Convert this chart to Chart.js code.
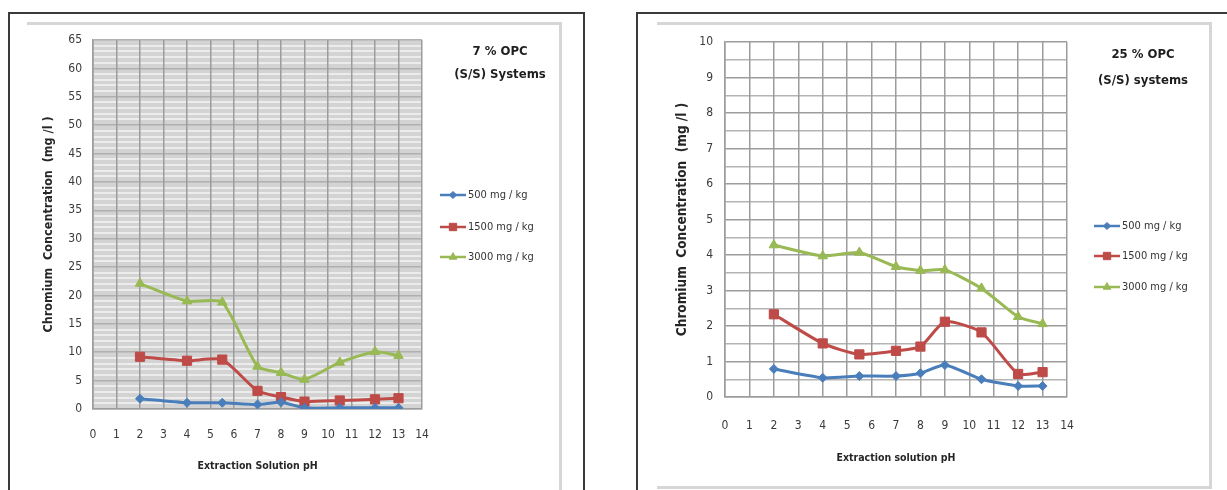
<!DOCTYPE html>
<html>
<head>
<meta charset="utf-8">
<script src="https://cdn.jsdelivr.net/npm/chart.js@4.4.1/dist/chart.umd.min.js"></script>
<style>
  html, body { margin: 0; padding: 0; background: #fff; overflow: hidden; }
  #page { position: relative; width: 1227px; height: 490px; }
  .box { position: absolute; box-sizing: border-box; }
  canvas { position: absolute; top: 0; }
</style>
</head>
<body>
<div id="page">
  <!-- left figure frames -->
  <div class="box" style="left:8px;top:12px;width:577px;height:520px;border:2px solid #3a3a3a;"></div>
  <div class="box" style="left:27px;top:22px;width:535px;height:520px;border-top:3px solid #d6d6d6;border-right:3px solid #d6d6d6;"></div>
  <!-- right figure frames -->
  <div class="box" style="left:636px;top:12px;width:620px;height:520px;border:2px solid #3a3a3a;"></div>
  <div class="box" style="left:657px;top:22px;width:555px;height:467px;border-top:3px solid #d6d6d6;border-right:3px solid #d6d6d6;border-bottom:3px solid #d6d6d6;"></div>

  <canvas id="c7" width="610" height="490" style="left:0px;"></canvas>
  <canvas id="c25" width="607" height="490" style="left:620px;"></canvas>
</div>
<script>
const FONT = "'Liberation Sans Narrow', 'DejaVu Sans Condensed', 'Liberation Sans', sans-serif";

// extraction solution pH
const ph = [2, 4, 5.5, 7, 8, 9, 10.5, 12, 13];
const seriesNames = ['500 mg / kg', '1500 mg / kg', '3000 mg / kg'];

// 7 % OPC (S/S) systems, chromium mg/l
const opc7_500  = [1.8, 1.1, 1.1, 0.8, 1.2, 0.2, 0.2, 0.2, 0.2];
const opc7_1500 = [9.2, 8.5, 8.7, 3.2, 2.1, 1.3, 1.5, 1.7, 1.9];
const opc7_3000 = [22.1, 19.0, 18.8, 7.5, 6.4, 5.2, 8.2, 10.1, 9.4];

// 25 % OPC (S/S) systems, chromium mg/l
const opc25_500  = [0.79, 0.54, 0.59, 0.59, 0.67, 0.9, 0.5, 0.31, 0.31];
const opc25_1500 = [2.33, 1.51, 1.2, 1.3, 1.42, 2.12, 1.82, 0.65, 0.7];
const opc25_3000 = [4.28, 3.97, 4.07, 3.67, 3.56, 3.58, 3.06, 2.26, 2.06];

const colors = ['#4a7ebb', '#be4b48', '#98b954'];
const styles = ['rectRot', 'rect', 'triangle'];
const radii = [4.5, 6.5, 5.5];

function makeSets(lists) {
  return lists.map((vals, i) => ({
    label: seriesNames[i],
    data: ph.map((x, j) => ({ x: x, y: vals[j] })),
    borderColor: colors[i],
    backgroundColor: colors[i],
    borderWidth: 3,
    pointStyle: styles[i],
    pointRadius: radii[i],
    pointBorderWidth: 1,
    tension: 0.2
  }));
}

const notes = {
  id: 'notes',
  beforeDraw(chart, args, opts) {
    if (!opts.plotBg) return;
    const a = chart.chartArea, ctx = chart.ctx;
    ctx.save();
    ctx.fillStyle = opts.plotBg;
    ctx.fillRect(a.left, a.top, a.width, a.height);
    ctx.restore();
  },
  afterDraw(chart, args, opts) {
    const ctx = chart.ctx;
    ctx.save();
    ctx.fillStyle = '#1e1e1e';
    ctx.font = 'bold 13px ' + FONT;
    ctx.textAlign = 'center';
    ctx.textBaseline = 'middle';
    opts.title.forEach((t, i) => ctx.fillText(t, opts.titleX, opts.titleY[i]));

    chart.data.datasets.forEach((ds, i) => {
      const y = opts.legendY[i], x0 = opts.legendX;
      ctx.strokeStyle = ds.borderColor;
      ctx.lineWidth = 2.5;
      ctx.beginPath();
      ctx.moveTo(x0, y);
      ctx.lineTo(x0 + 26, y);
      ctx.stroke();
      ctx.fillStyle = ds.borderColor;
      ctx.lineWidth = 1;
      Chart.helpers.drawPoint(ctx, { pointStyle: ds.pointStyle, radius: ds.pointRadius * 0.8, rotation: 0, borderWidth: 1 }, x0 + 13, y);
      ctx.fillStyle = '#333';
      ctx.font = '11px ' + FONT;
      ctx.textAlign = 'left';
      ctx.fillText(ds.label, x0 + 28, y);
    });
    ctx.restore();
  }
};

function build(id, lists, o) {
  new Chart(document.getElementById(id), {
    type: 'line',
    data: { datasets: makeSets(lists) },
    plugins: [notes],
    options: {
      responsive: false,
      animation: false,
      events: [],
      layout: { padding: o.padding },
      plugins: {
        legend: { display: false },
        tooltip: { enabled: false },
        notes: o.notes
      },
      scales: {
        x: {
          type: 'linear',
          min: 0, max: 14,
          afterFit: s => { s.height = o.xHeight; },
          ticks: { stepSize: 1, color: '#3a3a3a', padding: o.xPad, font: { family: FONT, size: 12 } },
          grid: { z: -1, color: '#9c9c9c', lineWidth: 1.5, drawTicks: false },
          border: { color: '#9c9c9c', width: 1.5 },
          title: {
            display: true, text: o.xTitle, color: '#262626', padding: 0,
            font: { family: FONT, size: 10.5, weight: 'bold' }
          }
        },
        y: {
          min: 0, max: o.yMax,
          afterFit: s => { s.width = o.yWidth; },
          ticks: {
            stepSize: o.yStep, autoSkip: false, color: '#3a3a3a', padding: o.yPad,
            font: { family: FONT, size: 12 },
            callback: v => (v % o.yLabelEvery === 0 ? v : '')
          },
          grid: {
            z: -2,
            drawTicks: false,
            color: c => (c.tick.value % o.yLabelEvery === 0 ? o.majorColor : o.minorColor),
            lineWidth: c => (c.tick.value % o.yLabelEvery === 0 ? 1.5 : o.minorWidth)
          },
          border: { color: '#9c9c9c', width: 1.5 },
          title: {
            display: true, text: 'Chromium  Concentration  (mg /l )', color: '#262626', padding: 0,
            font: { family: FONT, size: o.yTitleSize, weight: 'bold' }
          }
        }
      }
    }
  });
}

build('c7', [opc7_500, opc7_1500, opc7_3000], {
  padding: { left: 41, top: 40, right: 188, bottom: 17 },
  xHeight: 64, yWidth: 52, xPad: 19, yPad: 11,
  yMax: 65, yStep: 1, yLabelEvery: 5, yTitleSize: 12.5,
  majorColor: '#b0b0b0', minorColor: '#ececec', minorWidth: 2,
  xTitle: 'Extraction Solution pH',
  notes: {
    plotBg: '#d3d3d3',
    title: ['7 % OPC', '(S/S) Systems'], titleX: 500, titleY: [52, 75],
    legendX: 440, legendY: [195, 227, 257]
  }
});

build('c25', [opc25_500, opc25_1500, opc25_3000], {
  padding: { left: 54, top: 42, right: 160, bottom: 25 },
  xHeight: 68, yWidth: 51, xPad: 22, yPad: 12,
  yMax: 10, yStep: 0.5, yLabelEvery: 1, yTitleSize: 13.5,
  majorColor: '#9c9c9c', minorColor: '#b4b4b4', minorWidth: 1.5,
  xTitle: 'Extraction solution pH',
  notes: {
    plotBg: null,
    title: ['25 % OPC', '(S/S) systems'], titleX: 523, titleY: [55, 81],
    legendX: 474, legendY: [226, 256, 287]
  }
});
</script>
</body>
</html>
